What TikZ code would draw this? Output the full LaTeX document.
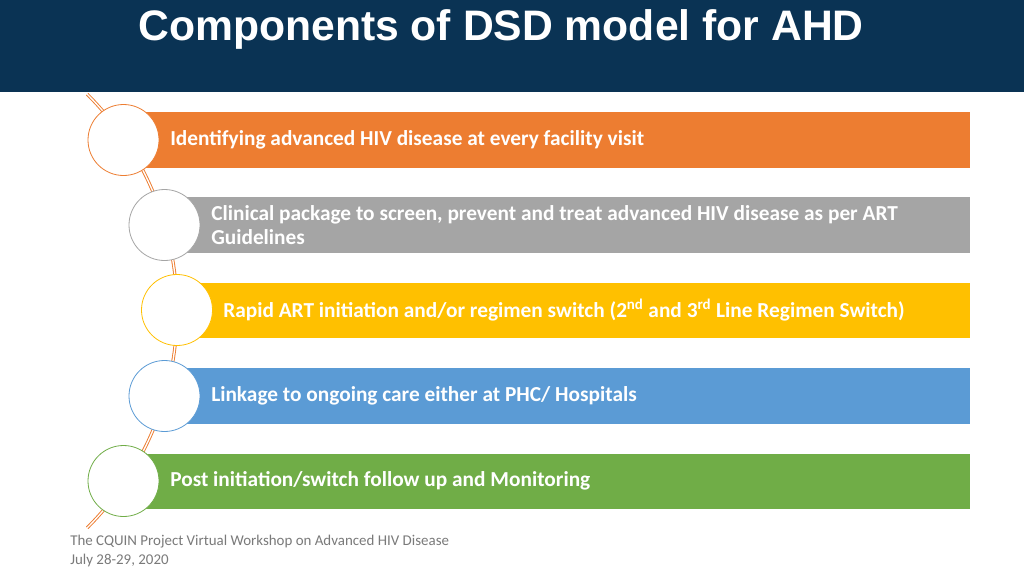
\documentclass[tikz,border=0pt]{standalone}
\usepackage{fontspec}
\setmainfont{Carlito}
\newfontfamily\titlefont{Liberation Sans}
\definecolor{navy}{HTML}{0A3354}
\definecolor{c-orange}{HTML}{ED7D31}
\definecolor{c-gray}{HTML}{A5A5A5}
\definecolor{c-yellow}{HTML}{FFC000}
\definecolor{c-blue}{HTML}{5B9BD5}
\definecolor{c-green}{HTML}{70AD47}
\definecolor{foot}{HTML}{7A7A7A}
\begin{document}
\begin{tikzpicture}[x=0.75pt,y=-0.75pt,
  barbox/.style={fill=#1, draw=none, anchor=north west, minimum height=55.5*0.75pt, inner sep=0pt},
  ring/.style={circle, draw=#1, fill=white, line width=0.6pt, minimum size=71*0.75pt, inner sep=0pt},
  bartext/.style={anchor=west, text=white, font=\fontsize{16}{20}\selectfont\bfseries, align=left, inner sep=0pt}]
\useasboundingbox (0,0) rectangle (1024,576);
\fill[white] (0,0) rectangle (1024,576);
% header
\fill[navy] (0,0) rectangle (1024,92);
\node[text=white, font=\titlefont\fontsize{32}{38}\selectfont\bfseries, anchor=center] (title) at (501,29) {Components of DSD model for AHD};
% arc
\draw[c-orange, line width=0.7pt, double=white, double distance=1.0pt] (-129.6,311) ++(-45:306.6) arc[start angle=-45, end angle=45, radius=306.6];
% bars
\path (143,112) node[barbox=c-orange, minimum width=(970-143)*0.75pt] (b1) {};
\path (187,197) node[barbox=c-gray, minimum width=(970-187)*0.75pt] (b2) {};
\path (200,282.5) node[barbox=c-yellow, minimum width=(970-200)*0.75pt] (b3) {};
\path (187,368) node[barbox=c-blue, minimum width=(970-187)*0.75pt] (b4) {};
\path (143,453.5) node[barbox=c-green, minimum width=(970-143)*0.75pt] (b5) {};
% circles
\node[ring=c-orange] (c1) at (123.5,140) {};
\node[ring=c-gray] (c2) at (164.5,225) {};
\node[ring=c-yellow] (c3) at (177,310) {};
\node[ring=c-blue] (c4) at (164.5,396) {};
\node[ring=c-green] (c5) at (123.5,481) {};
% texts
\node[bartext] (t1) at (170,140) {Identifying advanced HIV disease at every facility visit};
\node[bartext, font=\fontsize{16}{17.5}\selectfont\bfseries] (t2) at (211,225) {Clinical package to screen, prevent and treat advanced HIV disease as per ART\\Guidelines};
\node[bartext] (t3) at (223,310) {Rapid ART initiation and/or regimen switch (2\textsuperscript{nd} and 3\textsuperscript{rd} Line Regimen Switch)};
\node[bartext] (t4) at (211,396) {Linkage to ongoing care either at PHC/ Hospitals};
\node[bartext] (t5) at (170,481) {Post initiation/switch follow up and Monitoring};
% footer
\node[anchor=north west, text=foot, font=\fontsize{11.2}{14.2}\selectfont, align=left, inner sep=0pt] (foot) at (70,535) {The CQUIN Project Virtual Workshop on Advanced HIV Disease\\July 28-29, 2020};
\end{tikzpicture}
\end{document}
